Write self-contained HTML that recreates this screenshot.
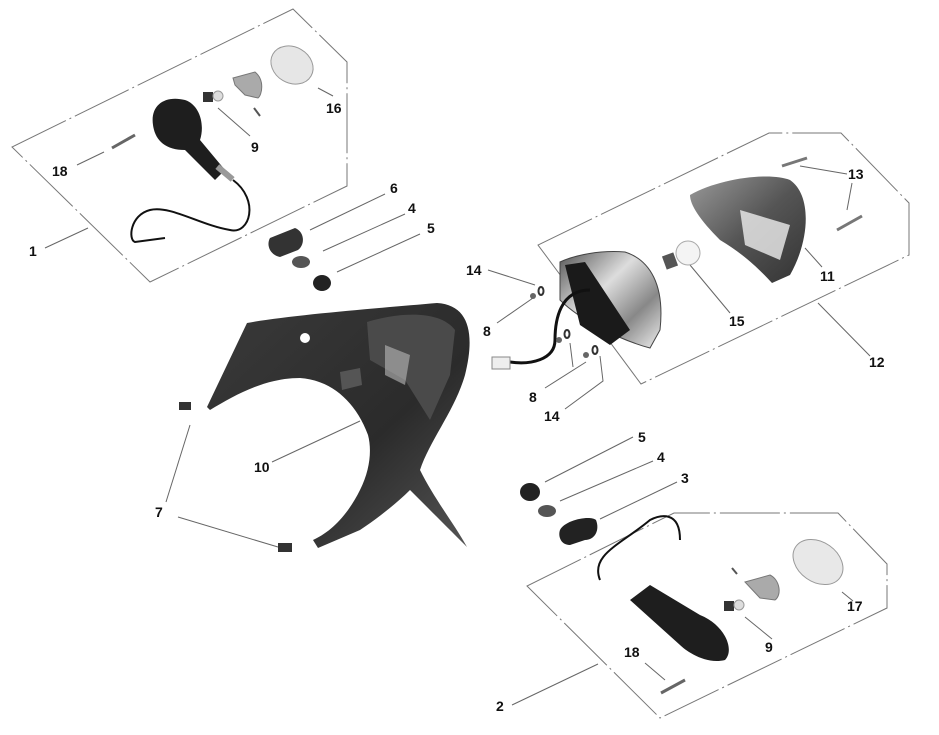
<!DOCTYPE html>
<html><head><style>
html,body{margin:0;padding:0;background:#fff;width:939px;height:735px;overflow:hidden}
svg{display:block}
text{font-family:"Liberation Sans",Arial,sans-serif;font-weight:bold;font-size:14px;fill:#111}
</style></head><body>
<svg width="939" height="735" viewBox="0 0 939 735">
<defs>
<linearGradient id="chrome" x1="0" y1="0" x2="1" y2="1"><stop offset="0" stop-color="#555"/><stop offset=".4" stop-color="#ddd"/><stop offset=".7" stop-color="#888"/><stop offset="1" stop-color="#eee"/></linearGradient>
<linearGradient id="lens" x1="0" y1="0" x2="1" y2="1"><stop offset="0" stop-color="#999"/><stop offset=".5" stop-color="#555"/><stop offset="1" stop-color="#333"/></linearGradient>
<linearGradient id="fend" x1="0" y1="0" x2="1" y2="1"><stop offset="0" stop-color="#3a3a3a"/><stop offset=".6" stop-color="#2b2b2b"/><stop offset="1" stop-color="#555"/></linearGradient>
</defs>
<g fill="none" stroke="#777" stroke-width="1" stroke-dasharray="60 4 2 4">
<polygon points="12,147 293,9 347,62 347,186 150,282"/>
<polygon points="538,245 769,133 841,133 909,203 909,255 641,384"/>
<polygon points="527,586 674,513 838,513 887,564 887,608 660,718"/>
</g>
<g stroke="#666" stroke-width="1" fill="none">
<line x1="45" y1="248" x2="88" y2="228"/>
<line x1="77" y1="165" x2="104" y2="152"/>
<line x1="250" y1="136" x2="218" y2="108"/>
<line x1="333" y1="96" x2="318" y2="88"/>
<line x1="310" y1="230" x2="385" y2="194"/>
<line x1="323" y1="251" x2="405" y2="214"/>
<line x1="337" y1="272" x2="420" y2="234"/>
<line x1="488" y1="270" x2="535" y2="285"/>
<line x1="497" y1="323" x2="533" y2="298"/>
<line x1="800" y1="166" x2="847" y2="174"/>
<line x1="852" y1="183" x2="847" y2="210"/>
<line x1="805" y1="248" x2="822" y2="267"/>
<line x1="690" y1="265" x2="730" y2="313"/>
<line x1="818" y1="303" x2="870" y2="356"/>
<line x1="545" y1="388" x2="586" y2="362"/>
<polyline points="565,409 603,381 600,356"/>
<line x1="570" y1="343" x2="573" y2="367"/>
<line x1="178" y1="517" x2="278" y2="547"/>
<line x1="166" y1="502" x2="190" y2="425"/>
<line x1="272" y1="462" x2="360" y2="421"/>
<line x1="545" y1="482" x2="633" y2="437"/>
<line x1="560" y1="501" x2="653" y2="461"/>
<line x1="600" y1="519" x2="677" y2="482"/>
<line x1="512" y1="705" x2="598" y2="664"/>
<line x1="645" y1="663" x2="665" y2="680"/>
<line x1="745" y1="617" x2="772" y2="639"/>
<line x1="842" y1="592" x2="853" y2="601"/>
</g>
<!-- top-left indicator -->
<g>
<path d="M153,125 C150,105 165,95 185,100 C200,105 205,125 200,140 L225,170 L215,180 L185,150 C165,150 155,140 153,125Z" fill="#1e1e1e"/>
<rect x="215" y="170" width="20" height="6" fill="#999" transform="rotate(40 225 173)"/>
<path d="M233,180 C260,200 250,235 230,230 C200,225 170,205 150,210 C130,215 128,240 135,242 L165,238" stroke="#111" stroke-width="2" fill="none"/>
<rect x="203" y="92" width="10" height="10" fill="#333"/><circle cx="218" cy="96" r="5" fill="#ddd" stroke="#999"/>
<path d="M233,78 L255,72 C265,80 262,95 258,98 L245,95 L235,85Z" fill="#aaa" stroke="#777"/>
<line x1="254" y1="108" x2="260" y2="116" stroke="#555" stroke-width="2"/>
<ellipse cx="292" cy="65" rx="22" ry="18" fill="#e6e6e6" stroke="#999" transform="rotate(30 292 65)"/>
<line x1="112" y1="148" x2="135" y2="135" stroke="#666" stroke-width="3"/>
<path d="M270,238 L295,228 C305,232 305,245 298,250 L280,257 C270,255 266,245 270,238Z" fill="#333"/>
<ellipse cx="301" cy="262" rx="9" ry="6" fill="#555"/>
<ellipse cx="322" cy="283" rx="9" ry="8" fill="#222"/>
</g>
<!-- fender -->
<path d="M207,407 L247,323 C290,315 380,308 437,303 C470,305 475,335 465,375 C455,410 430,440 420,470 C435,500 455,525 467,547 C445,525 425,505 410,490 C395,505 375,520 360,530 L318,548 L313,540 C335,530 350,510 360,490 C370,470 372,450 368,435 C355,400 330,380 300,378 C265,378 235,395 210,410 Z" fill="url(#fend)"/>
<path d="M367,322 C400,312 440,310 455,330 L450,375 L430,420 L405,380 L370,360 Z" fill="#4a4a4a"/>
<path d="M385,345 L410,355 L405,385 L385,375Z" fill="#bbb" opacity=".6"/>
<path d="M340,372 L360,368 L362,385 L342,390Z" fill="#555"/>
<circle cx="305" cy="338" r="5" fill="#fff"/>
<rect x="179" y="402" width="12" height="8" fill="#333"/>
<rect x="278" y="543" width="14" height="9" fill="#333"/>
<!-- right tail light -->
<path d="M560,262 C575,255 600,250 625,252 C650,260 665,285 660,330 L650,348 C620,340 580,320 560,300Z" fill="url(#chrome)" stroke="#444"/>
<path d="M565,265 L585,262 L630,330 L610,345 L580,325 Z" fill="#1a1a1a"/>
<path d="M590,290 C560,290 555,320 555,340 C555,360 530,365 510,362" stroke="#111" stroke-width="3" fill="none"/>
<rect x="492" y="357" width="18" height="12" fill="#eee" stroke="#888"/>
<circle cx="533" cy="296" r="3" fill="#666"/><ellipse cx="541" cy="291" rx="2.5" ry="4" fill="none" stroke="#333" stroke-width="2"/>
<circle cx="559" cy="340" r="3" fill="#666"/><ellipse cx="567" cy="334" rx="2.5" ry="4" fill="none" stroke="#333" stroke-width="2"/>
<circle cx="586" cy="355" r="3" fill="#666"/><ellipse cx="595" cy="350" rx="2.5" ry="4" fill="none" stroke="#333" stroke-width="2"/>
<rect x="664" y="254" width="12" height="14" fill="#555" transform="rotate(-20 670 261)"/>
<circle cx="688" cy="253" r="12" fill="#f4f4f4" stroke="#aaa"/>
<path d="M690,195 C720,178 770,172 790,180 C812,195 810,240 790,275 L772,283 C760,270 745,255 720,240 C700,220 690,205 690,195Z" fill="url(#lens)"/>
<path d="M740,210 L790,225 L780,260 L745,245Z" fill="#eee" opacity=".8"/>
<line x1="782" y1="166" x2="807" y2="158" stroke="#777" stroke-width="3"/>
<line x1="837" y1="230" x2="862" y2="216" stroke="#777" stroke-width="3"/>
<!-- bottom parts -->
<ellipse cx="530" cy="492" rx="10" ry="9" fill="#222"/>
<ellipse cx="547" cy="511" rx="9" ry="6" fill="#555"/>
<path d="M560,530 C565,520 590,515 596,520 C600,530 595,540 585,540 L570,545 C560,545 558,535 560,530Z" fill="#222"/>
<!-- bottom indicator -->
<path d="M600,580 C590,555 620,545 650,520 C660,515 680,510 680,540" stroke="#111" stroke-width="2" fill="none"/>
<path d="M630,600 L650,585 L700,615 C725,625 735,650 725,660 C705,665 685,650 680,645 Z" fill="#1e1e1e"/>
<rect x="724" y="601" width="10" height="10" fill="#333"/><circle cx="739" cy="605" r="5" fill="#ddd" stroke="#999"/>
<path d="M745,582 L770,575 C780,580 782,595 775,600 L760,598 Z" fill="#aaa" stroke="#777"/>
<line x1="732" y1="568" x2="737" y2="574" stroke="#555" stroke-width="2"/>
<ellipse cx="818" cy="562" rx="27" ry="20" fill="#e8e8e8" stroke="#999" transform="rotate(35 818 562)"/>
<line x1="661" y1="693" x2="685" y2="680" stroke="#666" stroke-width="3"/>
<!-- labels -->
<text x="29" y="256">1</text>
<text x="52" y="176">18</text>
<text x="251" y="152">9</text>
<text x="326" y="113">16</text>
<text x="390" y="193">6</text>
<text x="408" y="213">4</text>
<text x="427" y="233">5</text>
<text x="466" y="275">14</text>
<text x="483" y="336">8</text>
<text x="529" y="402">8</text>
<text x="544" y="421">14</text>
<text x="729" y="326">15</text>
<text x="820" y="281">11</text>
<text x="848" y="179">13</text>
<text x="869" y="367">12</text>
<text x="254" y="472">10</text>
<text x="155" y="517">7</text>
<text x="638" y="442">5</text>
<text x="657" y="462">4</text>
<text x="681" y="483">3</text>
<text x="847" y="611">17</text>
<text x="765" y="652">9</text>
<text x="624" y="657">18</text>
<text x="496" y="711">2</text>
</svg>
</body></html>
